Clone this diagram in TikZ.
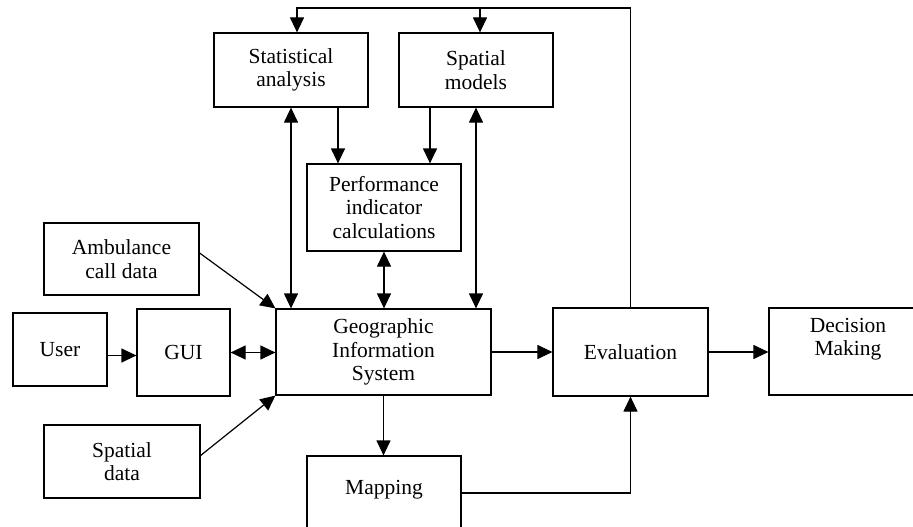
\documentclass[tikz,border=0pt]{standalone}
\usepackage{fontspec}
\setmainfont{Liberation Serif}
\usetikzlibrary{arrows.meta,calc}
\begin{document}
\begin{tikzpicture}[x=1pt,y=-1pt,
  box/.style={draw,line width=1.2pt,inner sep=0pt,align=center,font=\fontsize{21.5}{23.5}\selectfont},
  txt/.style={inner sep=0pt,align=center,font=\fontsize{21.5}{23.5}\selectfont},
  conn/.style={line width=1.2pt},
  arr/.style={conn,-{Triangle[length=15pt,width=14pt]}},
  darr/.style={conn,{Triangle[length=15pt,width=14pt]}-{Triangle[length=15pt,width=14pt]}}]
\useasboundingbox (0,0) rectangle (913,527);
\node[box,minimum width=154pt,minimum height=74pt] (stat) at (291,70) {Statistical\\analysis};
\node[box,minimum width=154pt,minimum height=74pt] (sm) at (476,70) {Spatial\\models};
\node[box,minimum width=154pt,minimum height=87pt] (perf) at (384,207.5) {Performance\\indicator\\calculations};
\node[box,minimum width=155pt,minimum height=72pt] (amb) at (121.5,259) {Ambulance\\call data};
\node[box,minimum width=94pt,minimum height=73pt] (user) at (60,349.5) {User};
\node[box,minimum width=93pt,minimum height=87pt] (gui) at (183.5,352.5) {GUI};
\node[box,minimum width=215pt,minimum height=86pt] (gis) at (383.5,352) {Geographic\\Information\\System};
\node[box,minimum width=156pt,minimum height=73pt] (sd) at (122,461.5) {Spatial\\data};
\node[box,minimum width=155pt,minimum height=88pt] (eval) at (630.5,352) {Evaluation};
\node[box,minimum width=158pt,minimum height=87pt] (dec) at (848,351.5) {};
\node[txt] (dect) at (848,339) {Decision\\Making};
\node[box,minimum width=154pt,minimum height=89pt] (map) at (384,500.5) {};
\node[txt] (mapt) at (384,490) {Mapping};
% top feedback loop
\coordinate (tl) at (297,8);
\coordinate (tm) at (480,8);
\draw[arr] (eval.north) |- (tl) -- (tl |- stat.north);
\draw[arr] (tm) -- (tm |- sm.north);
% to performance
\draw[arr] ([xshift=47pt]stat.south) -- ([xshift=47pt]stat.south |- perf.north);
\draw[arr] ([xshift=-46pt]sm.south) -- ([xshift=-46pt]sm.south |- perf.north);
% double arrows to GIS
\draw[darr] (stat.south) -- (stat.south |- gis.north);
\draw[darr] (sm.south) -- (sm.south |- gis.north);
\draw[darr] (perf.south) -- (perf.south |- gis.north);
% inputs
\draw[arr] ([yshift=6pt]amb.east) -- (gis.north west);
\draw[arr] ([yshift=6pt]sd.east) -- (gis.south west);
\draw[arr] ([yshift=-6pt]user.east) -- ([yshift=-6pt]user.east -| gui.west);
\draw[darr] (gui.east) -- (gui.east -| gis.west);
% outputs
\draw[arr] (gis.east) -- (gis.east -| eval.west);
\draw[arr] (eval.east) -- (eval.east -| dec.west);
\draw[arr] (gis.south) -- (gis.south |- map.north);
\coordinate (mo) at (461,493);
\draw[arr] (mo) -| (eval.south);
\end{tikzpicture}
\end{document}
